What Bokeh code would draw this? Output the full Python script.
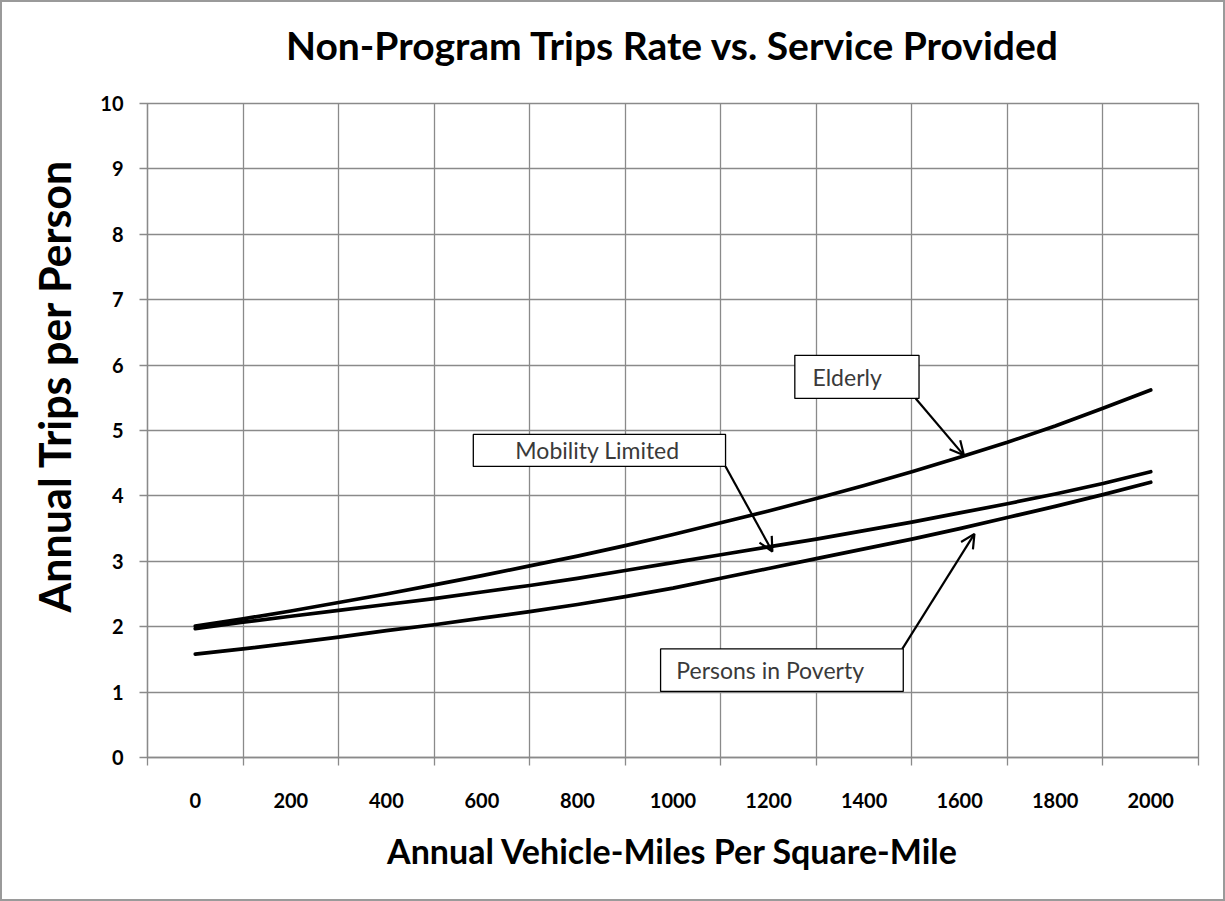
from bokeh.plotting import figure
from bokeh.layouts import column
from bokeh.models import (Range1d, FixedTicker, LinearAxis, Title, Arrow, OpenHead,
                          ColumnDataSource)
from bokeh.core.properties import value
from bokeh.embed import file_html
from bokeh.resources import INLINE

# ---- data ----
miles = [0, 100, 200, 300, 400, 500, 600, 700, 800, 900, 1000,
         1100, 1200, 1300, 1400, 1500, 1600, 1700, 1800, 1900, 2000]
elderly = [2.01, 2.12, 2.24, 2.37, 2.50, 2.64, 2.78, 2.93, 3.08, 3.24, 3.41,
           3.59, 3.77, 3.96, 4.16, 4.37, 4.59, 4.82, 5.07, 5.34, 5.62]
mobility = [1.97, 2.07, 2.16, 2.25, 2.34, 2.43, 2.53, 2.63, 2.74, 2.86, 2.98,
            3.10, 3.22, 3.34, 3.47, 3.60, 3.74, 3.88, 4.03, 4.19, 4.37]
poverty = [1.58, 1.66, 1.75, 1.84, 1.94, 2.03, 2.13, 2.23, 2.34, 2.46, 2.59,
           2.74, 2.89, 3.04, 3.19, 3.34, 3.50, 3.67, 3.84, 4.02, 4.21]

x_tick_labels = [0, 200, 400, 600, 800, 1000, 1200, 1400, 1600, 1800, 2000]
x_grid = [-100, 100, 300, 500, 700, 900, 1100, 1300, 1500, 1700, 1900, 2100]
y_ticks = [0, 1, 2, 3, 4, 5, 6, 7, 8, 9, 10]

title_text = "Non-Program Trips Rate vs. Service Provided"
x_title = "Annual Vehicle-Miles Per Square-Mile"
y_title = "Annual Trips per Person"

# callouts (data coordinates)
ann_text = ["Elderly", "Mobility Limited", "Persons in Poverty"]
ann_box_left = [1255, 582, 974]
ann_box_right = [1515, 1110, 1482]
ann_box_bottom = [5.49, 4.45, 1.01]
ann_box_top = [6.15, 4.94, 1.66]
ann_text_x = [1292, 670, 1007]
ann_arrow_start = [(1508, 5.49), (1110, 4.45), (1480, 1.66)]
ann_arrow_end = [(1609, 4.62), (1208, 3.15), (1631, 3.42)]

GRID = "#8a8a8a"
FONT = "Lato"

p = figure(width=1221, height=897, output_backend="svg", toolbar_location=None,
           x_range=Range1d(-100, 2100), y_range=Range1d(0, 10),
           min_border_left=145, min_border_right=25,
           min_border_top=101, min_border_bottom=142)
p.background_fill_color = "white"
p.border_fill_color = "white"
p.outline_line_color = GRID
p.outline_line_width = 1.3

# grids
p.xgrid.ticker = FixedTicker(ticks=x_grid)
p.xgrid.grid_line_color = GRID
p.xgrid.grid_line_width = 1.3
p.ygrid.ticker = FixedTicker(ticks=y_ticks)
p.ygrid.grid_line_color = GRID
p.ygrid.grid_line_width = 1.3

# y axis
ya = p.yaxis[0]
ya.ticker = FixedTicker(ticks=y_ticks)
ya.axis_line_color = GRID
ya.axis_line_width = 1.3
ya.major_tick_line_color = GRID
ya.major_tick_line_width = 1.3
ya.major_tick_out = 8
ya.major_tick_in = 0
ya.minor_tick_line_color = None
ya.major_label_standoff = 16
ya.major_label_text_font = FONT
ya.major_label_text_font_style = "bold"
ya.major_label_text_font_size = "20px"
ya.major_label_text_color = "black"

# x axis
xa = p.xaxis[0]
xa.ticker = FixedTicker(ticks=x_tick_labels, minor_ticks=x_grid)
xa.axis_line_color = GRID
xa.axis_line_width = 1.3
xa.major_tick_line_color = None
xa.major_tick_out = 0
xa.major_tick_in = 0
xa.minor_tick_line_color = GRID
xa.minor_tick_line_width = 1.3
xa.minor_tick_out = 8
xa.minor_tick_in = 0
xa.major_label_standoff = 27
xa.major_label_text_font = FONT
xa.major_label_text_font_style = "bold"
xa.major_label_text_font_size = "20px"
xa.major_label_text_color = "black"
xa.axis_label = x_title
xa.axis_label_text_font = FONT
xa.axis_label_text_font_style = "bold"
xa.axis_label_text_font_size = "34px"
xa.axis_label_text_color = "black"
xa.axis_label_standoff = 19

# chart title, drawn as the label of an otherwise empty top axis
title_axis = LinearAxis(ticker=FixedTicker(ticks=[]), axis_line_color=None,
                        major_tick_line_color=None, minor_tick_line_color=None,
                        major_tick_out=0, major_tick_in=0, minor_tick_out=0, minor_tick_in=0,
                        major_label_standoff=0, major_label_text_font_size="0px")
title_axis.axis_label = title_text
title_axis.axis_label_text_font = FONT
title_axis.axis_label_text_font_style = "bold"
title_axis.axis_label_text_font_size = "39px"
title_axis.axis_label_text_color = "black"
title_axis.axis_label_standoff = 36
p.add_layout(title_axis, "above")

# y-axis title
p.add_layout(Title(text=y_title, align="left", offset=145, standoff=36,
                   text_font=FONT, text_font_style="bold", text_font_size="43px",
                   text_color="black"), "left")

# series lines
for ys in (elderly, mobility, poverty):
    p.line(miles, ys, line_color="black", line_width=3.7, line_join="round", line_cap="round")

# callout boxes
box_src = ColumnDataSource(dict(left=ann_box_left, right=ann_box_right,
                                bottom=ann_box_bottom, top=ann_box_top))
p.quad(left="left", right="right", bottom="bottom", top="top", source=box_src,
       fill_color="white", line_color="black", line_width=1.3)
txt_src = ColumnDataSource(dict(x=ann_text_x,
                                y=[(b + t) / 2 for b, t in zip(ann_box_bottom, ann_box_top)],
                                text=ann_text))
p.text(x="x", y="y", text="text", source=txt_src, text_font=value(FONT),
       text_font_size="23px", text_color="#3a3a3a", text_baseline="middle", text_align="left")

for (x0, y0), (x1, y1) in zip(ann_arrow_start, ann_arrow_end):
    p.add_layout(Arrow(x_start=x0, y_start=y0, x_end=x1, y_end=y1,
                       line_color="black", line_width=2.2,
                       end=OpenHead(size=14, line_color="black", line_width=2.2)))

layout = column(p, styles={"border": "2px solid #9a9a9a"})
open("out.html", "w").write(file_html(layout, INLINE))
